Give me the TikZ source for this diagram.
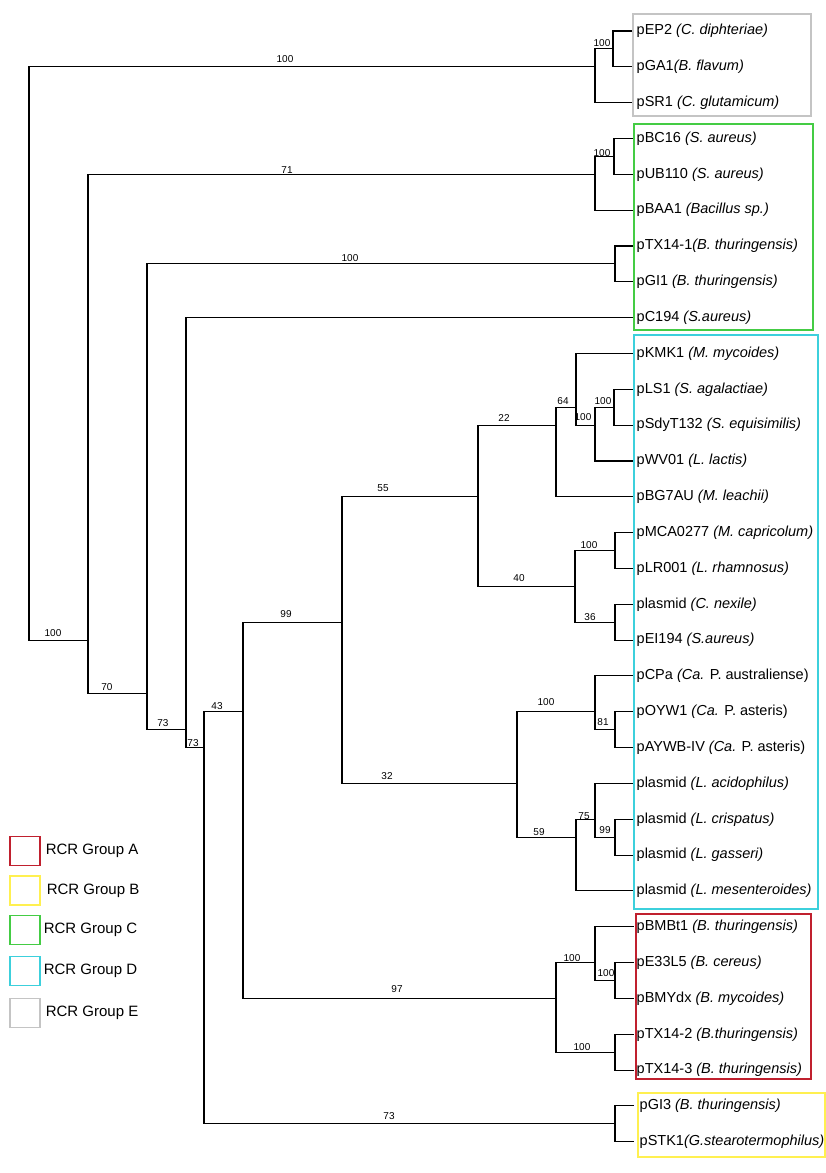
\documentclass[tikz,border=0pt]{standalone}
\usepackage{fontspec}
\setmainfont{Liberation Sans}
\usetikzlibrary{positioning}
\definecolor{GrpA}{HTML}{C0202E}
\definecolor{GrpB}{HTML}{FFF050}
\definecolor{GrpC}{HTML}{44CC44}
\definecolor{GrpD}{HTML}{3CD0DC}
\definecolor{GrpE}{HTML}{C4C4C4}

\begin{document}
\begin{tikzpicture}[x=1pt,y=-1pt,
  br/.style={line width=1.1pt,black},
  leaf/.style={anchor=west,inner sep=2pt,font=\fontsize{14.5}{16}\selectfont},
  bs/.style={inner sep=0pt,font=\fontsize{10}{12}\selectfont},
  grp/.style={line width=1.2pt},
  legbox/.style={draw,line width=1.2pt,minimum width=30pt,minimum height=29pt,inner sep=0pt},
  legtxt/.style={inner sep=0pt,font=\fontsize{15}{18}\selectfont}]
  \useasboundingbox (0,0) rectangle (826,1173);
  % plasmids (tips)
  \foreach \i/\nm/\txt in {1/ep2/{pEP2 \textit{(C. diphteriae)}},2/ga1/{pGA1\textit{(B. flavum)}},
    3/sr1/{pSR1 \textit{(C. glutamicum)}},4/bc16/{pBC16 \textit{(S. aureus)}},5/ub110/{pUB110 \textit{(S. aureus)}},
    6/baa1/{pBAA1 \textit{(Bacillus sp.)}},7/txa/{pTX14-1\textit{(B. thuringensis)}},8/gi1/{pGI1 \textit{(B. thuringensis)}},
    9/c194/{pC194 \textit{(S.aureus)}},10/kmk1/{pKMK1 \textit{(M. mycoides)}},11/ls1/{pLS1 \textit{(S. agalactiae)}},
    12/sdy/{pSdyT132 \textit{(S. equisimilis)}},13/wv01/{pWV01 \textit{(L. lactis)}},14/bg7/{pBG7AU \textit{(M. leachii)}},
    15/mca/{pMCA0277 \textit{(M. capricolum)}},16/lr001/{pLR001 \textit{(L. rhamnosus)}},17/cnex/{plasmid \textit{(C. nexile)}},
    18/ei194/{pEI194 \textit{(S.aureus)}},19/cpa/{pCPa \textit{(Ca.} P. australiense)},20/oyw1/{pOYW1 \textit{(Ca.} P. asteris)},
    21/aywb/{pAYWB-IV \textit{(Ca.} P. asteris)},22/laci/{plasmid \textit{(L. acidophilus)}},23/lcri/{plasmid \textit{(L. crispatus)}},
    24/lgas/{plasmid \textit{(L. gasseri)}},25/lmes/{plasmid \textit{(L. mesenteroides)}},26/bmbt/{pBMBt1 \textit{(B. thuringensis)}},
    27/e33/{pE33L5 \textit{(B. cereus)}},28/bmy/{pBMYdx \textit{(B. mycoides)}},29/txb/{pTX14-2 \textit{(B.thuringensis)}},
    30/txc/{pTX14-3 \textit{(B. thuringensis)}},31/gi3/{pGI3 \textit{(B. thuringensis)}},32/stk1/{pSTK1\textit{(G.stearotermophilus)}}}
    \node[leaf,inner xsep={(\i>30)*3pt+2.5pt}] (\nm) at (634,{31+35.83*(\i-1)}) {\txt};
  % internal nodes
  \coordinate (root) at (29,586.4);
  \coordinate (n1) at (613,48.9);   \coordinate (n2) at (595,66.8);
  \coordinate (n3) at (614,156.4);  \coordinate (n4) at (595,174.3);
  \coordinate (n5) at (615,263.9);
  \coordinate (n6) at (614,407.2);  \coordinate (n7) at (595,425.1);
  \coordinate (n8) at (576,407.2);  \coordinate (n9) at (556,425.1);
  \coordinate (n10) at (615,550.5); \coordinate (n11) at (615,622.2);
  \coordinate (n12) at (575,586.4); \coordinate (n13) at (478,496.8);
  \coordinate (n14) at (615,729.7); \coordinate (n15) at (595,711.8);
  \coordinate (n16) at (615,837.2); \coordinate (n17) at (595,819.3);
  \coordinate (n18) at (576,837.2); \coordinate (n19) at (517,783.4);
  \coordinate (n20) at (342,622.4);
  \coordinate (n21) at (615,980.5); \coordinate (n22) at (595,962.6);
  \coordinate (n23) at (615,1052.2);\coordinate (n24) at (556,998.4);
  \coordinate (n25) at (243,711.8); \coordinate (n26) at (615,1123.8);
  \coordinate (n27) at (204,747.6); \coordinate (n28) at (186,729.7);
  \coordinate (n29) at (147,693.9); \coordinate (n30) at (88,640.1);
  % branches
  \foreach \p/\c in {n1/ep2.west,n1/ga1.west,n2/n1,n2/sr1.west,root/n2,
    n3/bc16.west,n3/ub110.west,n4/n3,n4/baa1.west,n30/n4,
    n5/txa.west,n5/gi1.west,n29/n5,n28/c194.west,n29/n28,n30/n29,root/n30,
    n6/ls1.west,n6/sdy.west,n7/n6,n7/wv01.west,n8/kmk1.west,n8/n7,n9/n8,n9/bg7.west,
    n10/mca.west,n10/lr001.west,n11/cnex.west,n11/ei194.west,n12/n10,n12/n11,n13/n9,n13/n12,
    n14/oyw1.west,n14/aywb.west,n15/cpa.west,n15/n14,n16/lcri.west,n16/lgas.west,
    n17/laci.west,n17/n16,n18/n17,n18/lmes.west,n19/n15,n19/n18,n20/n13,n20/n19,
    n21/e33.west,n21/bmy.west,n22/bmbt.west,n22/n21,n23/txb.west,n23/txc.west,
    n24/n22,n24/n23,n25/n20,n25/n24,n26/gi3.west,n26/stk1.west,n27/n25,n27/n26,n28/n27}
    \draw[br] (\p) |- (\c);
  % bootstrap values
  \foreach \nm/\x/\y/\v in {b1/285/59/100,b2/602/43/100,b3/602/153/100,b4/287/170/71,b5/350/258/100,
    b6/563/401/64,b7/603/401/100,b8/583/417/100,b9/504/418/22,b10/589/545/100,b11/519/578/40,
    b12/590/617/36,b13/383/488/55,b14/286/614/99,b15/546/702/100,b16/603/722/81,b17/584/816/75,
    b18/605/830/99,b19/539/832/59,b20/387/776/32,b21/572/958/100,b22/606/973/100,b23/582/1047/100,
    b24/397/989/97,b25/217/706/43,b26/389/1116/73,b27/193/743/73,b28/163/723/73,b29/107/687/70,b30/53/633/100}
    \node[bs] (\nm) at (\x,\y) {\v};
  % RCR group frames
  \draw[grp,GrpE] (633,14) rectangle (811,116);
  \draw[grp,GrpC] (634,124) rectangle (813,330);
  \draw[grp,GrpD] (634,335) rectangle (818,909);
  \draw[grp,GrpA] (636,914) rectangle (811,1079);
  \draw[grp,GrpB] (638,1093) rectangle (825,1157);
  % legend
  \node[legbox,draw=GrpA] (la) at (25,851) {};
  \node[legbox,draw=GrpB] (lb) at (25,890.5) {};
  \node[legbox,draw=GrpC] (lc) at (25,930) {};
  \node[legbox,draw=GrpD] (ld) at (25,971) {};
  \node[legbox,draw=GrpE] (le) at (25,1013) {};
  \node[legtxt,right=5pt of la] (ta) {RCR Group A};
  \node[legtxt,right=6pt of lb] (tb) {RCR Group B};
  \node[legtxt,right=3pt of lc] (tc) {RCR Group C};
  \node[legtxt,right=3pt of ld] (td) {RCR Group D};
  \node[legtxt,right=5pt of le] (te) {RCR Group E};
\end{tikzpicture}
\end{document}
